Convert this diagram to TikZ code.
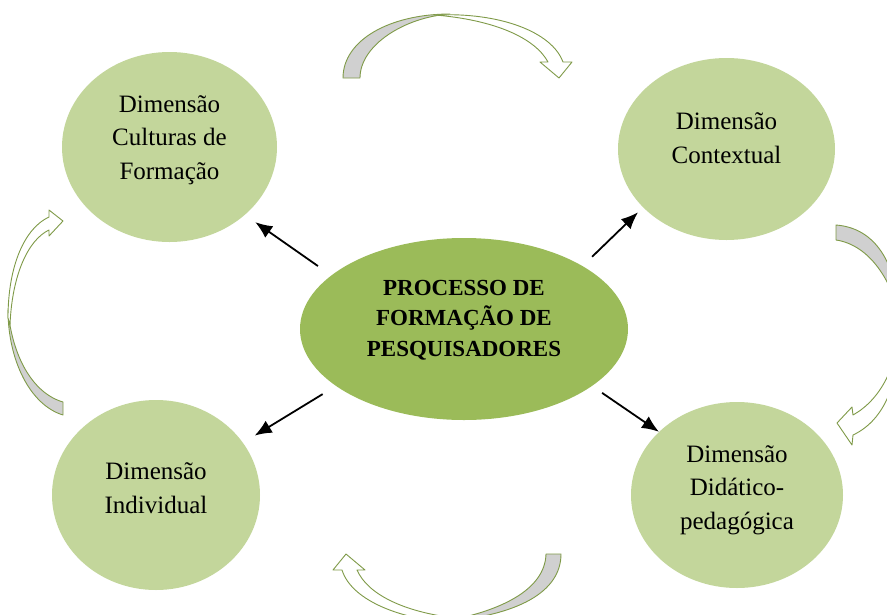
\documentclass[tikz,border=0pt]{standalone}
\usepackage{fontspec}
\setmainfont{Liberation Serif}
\usetikzlibrary{arrows.meta,shapes.geometric}
\definecolor{olivelight}{HTML}{C3D69B}
\definecolor{olivemid}{HTML}{9BBB59}
\definecolor{olivedark}{HTML}{7F9A48}
\definecolor{curlgray}{HTML}{D0D0D0}
\tikzset{%
  curlback/.style = {%
    fill = curlgray,
    draw = olivedark,
    line width = 0.9pt,
    line join = round},
  curlfront/.style = {%
    fill = white,
    draw = olivedark,
    line width = 0.9pt,
    line join = round}}

\begin{document}
\begin{tikzpicture}[x=1pt, y=-1pt,
dimnode/.style={ellipse, fill=olivelight, inner sep=0pt},
procnode/.style={ellipse, fill=olivemid, inner sep=0pt},
dimtext/.style={align=center, font=\fontsize{25}{33.5}\selectfont},
proctext/.style={align=center, font=\fontsize{23}{30.5}\selectfont\bfseries},
link/.style={-{Latex[length=17pt,width=14pt]}, line width=1.8pt},
]

\useasboundingbox (0,0) rectangle (887,614);
\clip (0,0) rectangle (887,614);

\node[dimnode, minimum width=215pt, minimum height=190pt] (dcf) at (169.5,147) {};
\node[dimnode, minimum width=217pt, minimum height=182pt] (dc)  at (726.5,149) {};
\node[dimnode, minimum width=208pt, minimum height=190pt] (di)  at (156,495)   {};
\node[dimnode, minimum width=212pt, minimum height=186pt] (ddp) at (737,495)   {};
\node[procnode, minimum width=328pt, minimum height=182pt] (proc) at (464,329) {};

\node[dimtext]  (dcf_t)  at ([yshift=7pt]dcf.center)   {Dimensão\\Culturas de\\Formação};
\node[dimtext]  (dc_t)   at ([yshift=11pt]dc.center)   {Dimensão\\Contextual};
\node[dimtext]  (di_t)   at ([yshift=7pt]di.center)    {Dimensão\\Individual};
\node[dimtext]  (ddp_t)  at ([yshift=5pt]ddp.center)   {Dimensão\\Didático-\\pedagógica};
\node[proctext] (proc_t) at ([yshift=9pt]proc.center)  {PROCESSO DE\\FORMAÇÃO DE\\PESQUISADORES};

\draw[link, shorten <=16.2pt, shorten >=12.6pt] (proc.158.5) -- (dcf.-42.8);
\draw[link, shorten <=13.2pt, shorten >=7pt]    (proc.28)    -- (dc.215.7);
\draw[link, shorten <=15.5pt, shorten >=13.6pt] (proc.204.1) -- (di.31.6);
\draw[link, shorten <=12.1pt]                   (proc.-24.8) -- (ddp.141.9);

% top curl
\draw[curlback] (343,78) .. controls (343,40) and (390,14) .. (450,14)
  .. controls (405,17) and (360,45) .. (360,78) -- cycle;
\draw[curlfront] (435,15) .. controls (500,12) and (552,32) .. (563,62) -- (572,62) -- (559,78)
  -- (540,62) -- (548,62) .. controls (535,38) and (495,20) .. (435,15) -- cycle;

% right curl
\draw[curlback] (836,225) .. controls (875,228) and (897,262) .. (900,320)
  .. controls (893,282) and (870,245) .. (836,240) -- cycle;
\draw[curlfront] (898,320) .. controls (900,365) and (880,400) .. (853,415) -- (852,407) -- (837,423)
  -- (852,445) -- (853,435) .. controls (885,420) and (902,380) .. (898,320) -- cycle;

% left curl
\draw[curlback] (63,415) .. controls (30,405) and (8,360) .. (8,310)
  .. controls (12,355) and (32,393) .. (63,402) -- cycle;
\draw[curlfront] (8,318) .. controls (8,265) and (25,228) .. (49,217) -- (49,210) -- (63,221)
  -- (49,236) -- (49,230) .. controls (28,240) and (12,275) .. (10,325) -- cycle;

% bottom curl
\draw[curlback] (561,554) .. controls (561,592) and (518,616) .. (440,622)
  .. controls (500,612) and (545,590) .. (546,554) -- cycle;
\draw[curlfront] (450,622) .. controls (405,620) and (352,602) .. (342,570) -- (333,570) -- (346,554)
  -- (365,570) -- (357,570) .. controls (368,595) and (405,612) .. (455,618) -- cycle;

\end{tikzpicture}
\end{document}
